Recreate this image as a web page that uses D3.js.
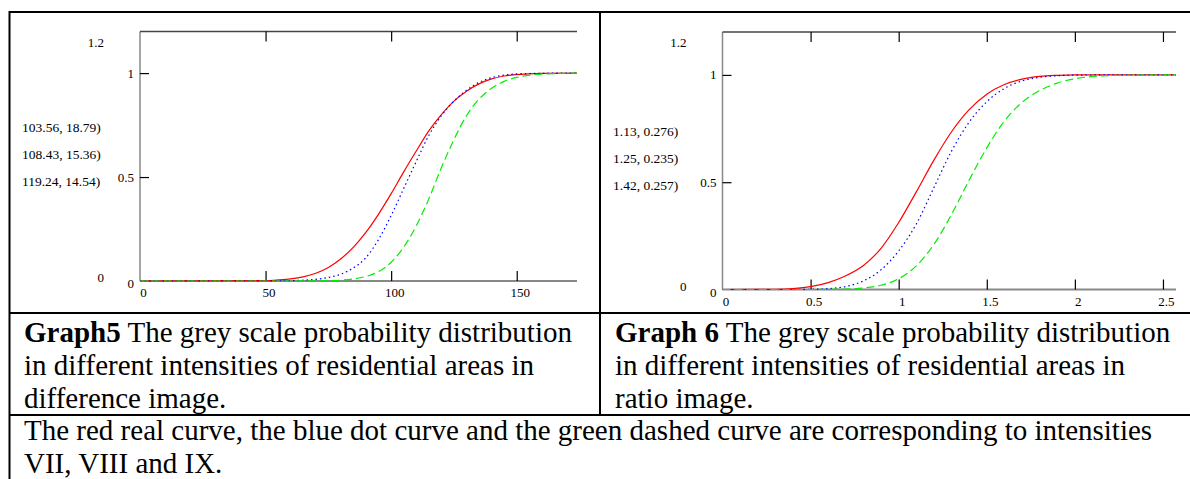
<!DOCTYPE html>
<html>
<head>
<meta charset="utf-8">
<script src="https://cdnjs.cloudflare.com/ajax/libs/d3/7.8.5/d3.min.js"></script>
<style>
  body { margin: 0; background: #fff; }
  text { font-family: "Liberation Serif", "Times New Roman", serif; fill: #000; }
</style>
</head>
<body>
<div id="chart"></div>
<script>
// Graph 5: difference image (grey value vs cumulative probability)
const diffX = [0, 50, 55, 60, 65, 70, 75, 80, 85, 90, 95, 100, 105, 110, 115, 120, 125, 130, 135, 140, 145, 150, 160, 174];
const diffVII = [0, 0.002, 0.005, 0.01, 0.02, 0.037, 0.065, 0.107, 0.163, 0.235, 0.322, 0.42, 0.525, 0.625, 0.722, 0.8, 0.865, 0.913, 0.948, 0.972, 0.986, 0.993, 0.999, 1];
const diffVIII = [0, 0, 0.001, 0.002, 0.004, 0.008, 0.017, 0.033, 0.063, 0.113, 0.2, 0.315, 0.445, 0.575, 0.7, 0.795, 0.865, 0.917, 0.955, 0.978, 0.99, 0.996, 0.999, 1];
const diffIX = [0, 0, 0, 0, 0.001, 0.001, 0.002, 0.004, 0.01, 0.022, 0.045, 0.09, 0.163, 0.265, 0.395, 0.545, 0.68, 0.795, 0.875, 0.927, 0.96, 0.979, 0.995, 1];
const diffParams = ["103.56, 18.79)", "108.43, 15.36)", "119.24, 14.54)"];
const diffTicks = [50, 100, 150];
const diffLabels = [0, 50, 100, 150];

// Graph 6: ratio image
const ratioX = [0, 0.3, 0.4, 0.5, 0.6, 0.7, 0.8, 0.9, 1.0, 1.1, 1.2, 1.3, 1.4, 1.5, 1.6, 1.7, 1.8, 1.9, 2.0, 2.2, 2.574];
const ratioVII = [0, 0.001, 0.004, 0.013, 0.032, 0.064, 0.112, 0.192, 0.312, 0.455, 0.603, 0.735, 0.838, 0.91, 0.955, 0.98, 0.993, 0.998, 1, 1, 1];
const ratioVIII = [0, 0, 0, 0.001, 0.004, 0.014, 0.04, 0.092, 0.18, 0.305, 0.475, 0.645, 0.78, 0.875, 0.937, 0.972, 0.989, 0.996, 0.999, 1, 1];
const ratioIX = [0, 0, 0, 0, 0.001, 0.002, 0.007, 0.02, 0.05, 0.11, 0.21, 0.35, 0.51, 0.66, 0.785, 0.872, 0.927, 0.962, 0.982, 0.997, 1];
const ratioParams = ["1.13, 0.276)", "1.25, 0.235)", "1.42, 0.257)"];
const ratioTicks = [0.5, 1, 1.5, 2, 2.5];
const ratioLabels = [0, 0.5, 1, 1.5, 2, 2.5];

const yTicks = [0.5, 1];
const yLabels = [0, 0.5, 1];

const caption5 = ["in different intensities of residential areas in", "difference image."];
const caption6 = ["in different intensities of residential areas in", "ratio image."];
const noteLines = [
  "The red real curve, the blue dot curve and the green dashed curve are corresponding to intensities",
  "VII, VIII and IX."
];

const svg = d3.select("#chart").append("svg").attr("width", 1190).attr("height", 479);

// table rules
const rules = [
  [9.5, 12, 1190, 12],
  [9.5, 11, 9.5, 479],
  [600, 12, 600, 415],
  [9.5, 313, 1190, 313],
  [9.5, 415, 1190, 415]
];
svg.selectAll("line.rule").data(rules).join("line")
  .attr("class", "rule")
  .attr("x1", d => d[0]).attr("y1", d => d[1])
  .attr("x2", d => d[2]).attr("y2", d => d[3])
  .attr("stroke", "#000").attr("stroke-width", 2);

function drawPanel(p) {
  const x = d3.scaleLinear().domain([0, p.xs[p.xs.length - 1]]).range([p.left, p.right]);
  const y = d3.scaleLinear().domain([0, 1.2]).range([p.bottom, p.top]);
  const g = svg.append("g");

  // frame: grey axes left/bottom, darker top edge
  g.append("line").attr("x1", p.left).attr("x2", p.left).attr("y1", p.top).attr("y2", p.bottom)
    .attr("stroke", "#888").attr("stroke-width", 1.5);
  g.append("line").attr("x1", p.left).attr("x2", p.right).attr("y1", p.top).attr("y2", p.top)
    .attr("stroke", "#444").attr("stroke-width", 1.5);
  g.append("line").attr("x1", p.left).attr("x2", p.right).attr("y1", p.bottom).attr("y2", p.bottom)
    .attr("stroke", "#888").attr("stroke-width", 2);

  // ticks (Mathcad style, pointing inwards)
  const tickTop = g.append("g").attr("transform", `translate(0,${p.top})`)
    .call(d3.axisTop(x).tickValues(p.ticks).tickSize(-10).tickFormat(""));
  const tickBot = g.append("g").attr("transform", `translate(0,${p.bottom})`)
    .call(d3.axisBottom(x).tickValues(p.ticks).tickSize(-10).tickFormat(""));
  const tickLeft = g.append("g").attr("transform", `translate(${p.left},0)`)
    .call(d3.axisLeft(y).tickValues(yTicks).tickSize(-9).tickFormat(""));
  [tickTop, tickBot, tickLeft].forEach(a => {
    a.select(".domain").remove();
    a.selectAll("line").attr("stroke", "#000").attr("stroke-width", 1.2);
  });

  // curves
  const line = d3.line().x(d => x(d[0])).y(d => y(d[1])).curve(d3.curveMonotoneX);
  const series = [
    { v: p.s1, color: "#ff0000", dash: null },
    { v: p.s2, color: "#0000ff", dash: "1.5,3" },
    { v: p.s3, color: "#00ee00", dash: "8,4" }
  ];
  series.forEach(s => {
    g.append("path")
      .datum(p.xs.map((xv, i) => [xv, s.v[i]]))
      .attr("d", line)
      .attr("fill", "none")
      .attr("stroke", s.color)
      .attr("stroke-width", 1.2)
      .attr("stroke-dasharray", s.dash);
  });

  // x labels
  g.selectAll("text.xl").data(p.labels).join("text")
    .attr("class", "xl")
    .attr("x", d => x(d) + 3.5)
    .attr("y", p.bottom + 16)
    .attr("text-anchor", "middle")
    .style("font-size", "13px")
    .text(d => d);

  // y labels
  g.selectAll("text.yl").data(yLabels).join("text")
    .attr("class", "yl")
    .attr("x", p.left - 6)
    .attr("y", d => y(d) + (d === 0 ? 7 : 4.5))
    .attr("text-anchor", "end")
    .style("font-size", "13px")
    .text(d => d);

  // axis limit labels
  g.append("text").attr("x", p.left - 36).attr("y", y(1.2) + 15)
    .attr("text-anchor", "end").style("font-size", "13px").text("1.2");
  g.append("text").attr("x", p.left - 36).attr("y", p.bottom + 1)
    .attr("text-anchor", "end").style("font-size", "13px").text("0");

  // distribution parameters
  g.selectAll("text.pm").data(p.params).join("text")
    .attr("class", "pm")
    .attr("x", p.paramX)
    .attr("y", (d, i) => p.paramY + i * 27)
    .style("font-size", "13.5px")
    .text(d => d);
}

drawPanel({
  xs: diffX, s1: diffVII, s2: diffVIII, s3: diffIX,
  left: 140, right: 577, top: 31.5, bottom: 281,
  ticks: diffTicks, labels: diffLabels, params: diffParams,
  paramX: 22, paramY: 131.5
});

drawPanel({
  xs: ratioX, s1: ratioVII, s2: ratioVIII, s3: ratioIX,
  left: 722.5, right: 1176, top: 32, bottom: 289.5,
  ticks: ratioTicks, labels: ratioLabels, params: ratioParams,
  paramX: 613, paramY: 135.5
});

// captions
function caption(x, label, first, rest) {
  const t = svg.append("text").attr("x", x).attr("y", 342).style("font-size", "29px");
  t.append("tspan").style("font-weight", "bold").text(label);
  t.append("tspan").text(first);
  rest.forEach((s, i) => {
    svg.append("text").attr("x", x).attr("y", 375 + i * 33).style("font-size", "29px").text(s);
  });
}
caption(24, "Graph5", " The grey scale probability distribution", caption5);
caption(615, "Graph 6", " The grey scale probability distribution", caption6);

svg.selectAll("text.note").data(noteLines).join("text")
  .attr("class", "note")
  .attr("x", 24)
  .attr("y", (d, i) => 440 + i * 33)
  .style("font-size", "29px")
  .text(d => d);
</script>
</body>
</html>
